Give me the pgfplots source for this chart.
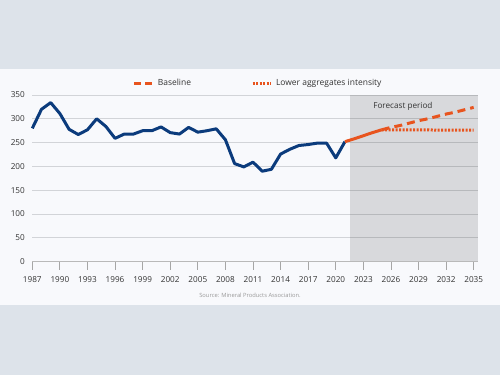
\documentclass[border=0pt]{standalone}
\usepackage{pgfplots}
\pgfplotsset{compat=1.18}
\usepackage{fontspec}
\setmainfont{Open Sans}
\definecolor{bgout}{HTML}{DDE3EA}
\definecolor{panel}{HTML}{F8F9FC}
\definecolor{navy}{HTML}{0B3B7C}
\definecolor{orng}{HTML}{E8541E}
\definecolor{txt}{HTML}{333333}
\definecolor{gridc}{HTML}{D2D4D8}
\begin{document}
\begin{tikzpicture}
\fill[bgout] (0,0) rectangle (500bp,375bp);
\useasboundingbox (0,0) rectangle (500bp,375bp);
\fill[panel] (0,70bp) rectangle (500bp,306bp);
\begin{axis}[
  at={(32.3bp,113.3bp)}, anchor=south west,
  scale only axis, width=446bp, height=166.7bp,
  xmin=1987, xmax=2035.5, ymin=0, ymax=350,
  xtick={1987,1990,...,2035},
  ytick={0,50,...,350},
  xtick pos=bottom, ytick pos=left,
  axis line style={draw=none},
  ymajorgrids, grid style={draw=gridc, line width=0.8bp},
  tick align=outside, major tick length=8bp,
  xtick style={draw=gray!70, line width=0.8bp},
  ytick style={draw=none},
  /pgf/number format/assume math mode=true,
  /pgf/number format/1000 sep={},
  tick label style={font=\fontsize{8.2}{9}\selectfont, text=txt},
  yticklabel style={xshift=4bp},
  xticklabel style={yshift=-3bp},
  legend style={at={(0.225,1.07)}, anchor=west, draw=none, fill=none,
    font=\fontsize{8.5}{9}\selectfont, text=txt, inner sep=0pt,
    /tikz/every even column/.append style={column sep=58bp}},
  legend columns=2,
  clip=false,
]
\fill[black, fill opacity=0.125] (axis cs:2021.6,0) rectangle (axis cs:2035.5,350);
\draw[gray!55, line width=0.8bp] (axis cs:1987,0) -- (axis cs:2035.5,0);
\node[font=\fontsize{8.2}{9}\selectfont, text=txt] at (axis cs:2027.3,326) {Forecast period};
\addplot[navy, line width=3bp, line join=round, forget plot] coordinates {
(1987,280)(1988,320)(1989,334)(1990,311)(1991,278)(1992,267)(1993,277)(1994,300)
(1995,284)(1996,259)(1997,268)(1998,268)(1999,275)(2000,275)(2001,283)(2002,271)
(2003,268)(2004,282)(2005,272)(2006,275)(2007,279)(2008,256)(2009,206)(2010,199)
(2011,209)(2012,190)(2013,194)(2014,226)(2015,236)(2016,244)(2017,246)(2018,249)
(2019,249)(2020,218)(2021,252)};
\addplot[orng, line width=3bp, line join=round, forget plot] coordinates {
(2021,252)(2022,258)(2023,264.5)(2024,271)(2025,277)};
\addplot[orng, line width=3bp, dash pattern=on 8bp off 5bp,
  legend image code/.code={\draw[orng, line width=3bp, dash pattern=on 7bp off 4bp] (0bp,0bp) -- (18bp,0bp);}]
  coordinates {(2025,277)(2026,282)(2027,286)(2028,291)(2029,296)(2030,300)(2031,305)(2032,310)(2033,314)(2034,319)(2035,324)};
\addlegendentry{\hspace{2bp}Baseline}
\addplot[orng, line width=3bp, dash pattern=on 2bp off 1.5bp,
  legend image code/.code={\draw[orng, line width=3bp, dash pattern=on 2bp off 1.5bp] (0bp,0bp) -- (18bp,0bp);}]
  coordinates {(2025,277)(2026,277)(2027,277)(2028,277)(2029,277)(2030,277)(2031,276)(2032,276)(2033,276)(2034,276)(2035,276)};
\addlegendentry{\hspace{2bp}Lower aggregates intensity}
\end{axis}
\node[font=\fontsize{5.8}{7}\selectfont, text=gray!80] at (250bp,80bp) {Source: Mineral Products Association.};
\end{tikzpicture}
\end{document}
